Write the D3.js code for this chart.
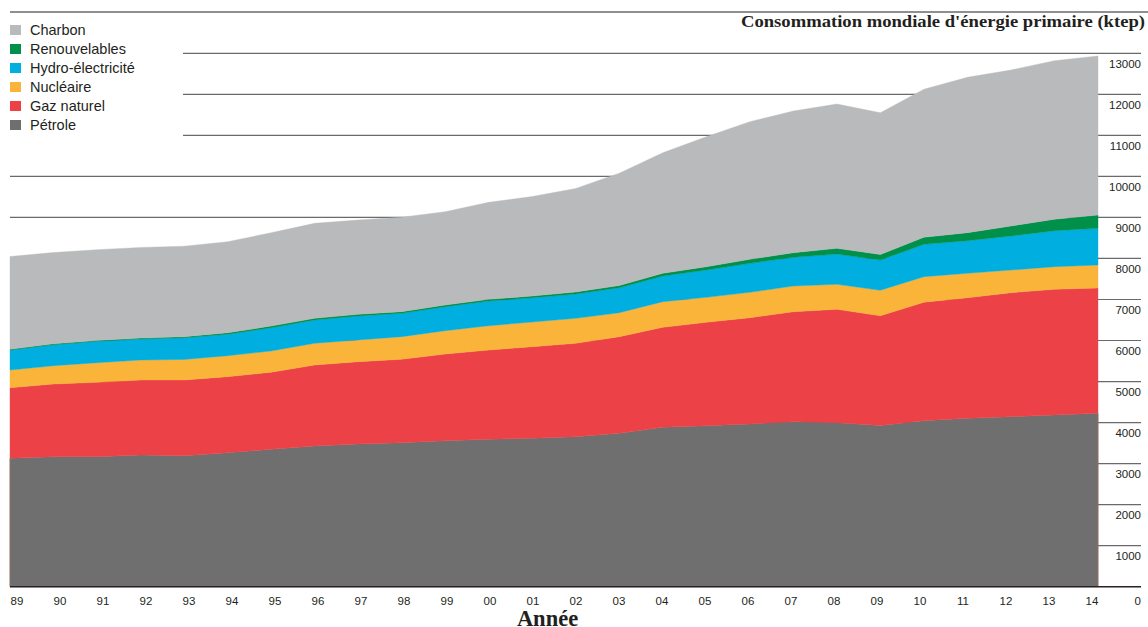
<!DOCTYPE html>
<html>
<head>
<meta charset="utf-8">
<script src="https://cdn.jsdelivr.net/npm/d3@7"></script>
<style>
  html, body { margin: 0; padding: 0; background: #fff; }
  svg { display: block; }
</style>
</head>
<body>
<svg id="chart" width="1148" height="627"></svg>
<script>
// ---- Data (ktep) ----
const years = [1989,1990,1991,1992,1993,1994,1995,1996,1997,1998,1999,2000,2001,2002,2003,2004,2005,2006,2007,2008,2009,2010,2011,2012,2013,2014];
const yearLabels = ["89","90","91","92","93","94","95","96","97","98","99","00","01","02","03","04","05","06","07","08","09","10","11","12","13","14"];
const petrole = [3129,3168,3168,3210,3193,3266,3349,3429,3478,3510,3558,3592,3617,3656,3739,3885,3924,3965,4021,3997,3929,4046,4104,4143,4185,4226];
const gazNaturel = [1721,1772,1813,1828,1845,1852,1877,1974,2006,2033,2113,2176,2233,2276,2354,2437,2520,2591,2681,2764,2674,2886,2939,3022,3064,3054];
const nucleaire = [431,446,478,487,500,512,519,529,529,551,568,592,602,609,585,624,609,619,626,609,621,624,595,553,551,561];
const hydro = [487,512,522,512,529,522,568,568,585,570,585,602,592,592,609,626,665,707,700,738,738,790,795,829,877,894];
const renouvelables = [22,22,22,22,27,36,40,41,41,40,41,41,40,52,52,66,80,97,112,139,134,171,195,244,278,324];
const charbon = [2257,2225,2211,2208,2206,2218,2274,2315,2298,2301,2274,2364,2425,2520,2739,2939,3168,3354,3454,3517,3456,3607,3787,3802,3866,3875];
const yTicks = [1000,2000,3000,4000,5000,6000,7000,8000,9000,10000,11000,12000,13000];

const seriesNames = ["Pétrole","Gaz naturel","Nucléaire","Hydro-électricité","Renouvelables","Charbon"];
const seriesColors = ["#6f6f6f","#ec4147","#fbb43a","#00aee0","#00904a","#b9babc"];
const legendOrder = ["Charbon","Renouvelables","Hydro-électricité","Nucléaire","Gaz naturel","Pétrole"];

const seriesValues = [petrole, gazNaturel, nucleaire, hydro, renouvelables, charbon];
const table = years.map((yr, i) => {
  const row = { year: yr };
  seriesNames.forEach((n, k) => row[n] = seriesValues[k][i]);
  return row;
});

// ---- Scales ----
const svg = d3.select("#chart");
const x = d3.scaleLinear().domain([1989, 2014]).range([10, 1098]);
const y = d3.scaleLinear().domain([0, 13000]).range([586.7, 53.3]);
const xLab = d3.scalePoint().domain(yearLabels).range([17, 1092]);
const color = d3.scaleOrdinal().domain(seriesNames).range(seriesColors);

// ---- Top rule & title ----
svg.append("line").attr("x1", 10).attr("x2", 1148).attr("y1", 12).attr("y2", 12)
  .attr("stroke", "#6a6a6a").attr("stroke-width", 1.3);

svg.append("text")
  .attr("x", 1145).attr("y", 27)
  .attr("text-anchor", "end")
  .attr("font-family", "'Liberation Serif', 'Times New Roman', serif")
  .attr("font-weight", "bold")
  .attr("font-size", 17.5)
  .attr("textLength", 404)
  .attr("lengthAdjust", "spacingAndGlyphs")
  .attr("fill", "#231f20")
  .text("Consommation mondiale d'énergie primaire (ktep)");

// ---- Gridlines ----
svg.append("g").selectAll("line").data(yTicks).join("line")
  .attr("x1", d => d >= 11000 ? 183 : 10)
  .attr("x2", 1141)
  .attr("y1", d => y(d)).attr("y2", d => y(d))
  .attr("stroke", "#6a6a6a").attr("stroke-width", 1.2);

// ---- Stacked areas ----
const stack = d3.stack().keys(seriesNames);
const layers = stack(table);
const area = d3.area()
  .x(d => x(d.data.year))
  .y0(d => y(d[0]))
  .y1(d => y(d[1]));

svg.append("g").selectAll("path").data(layers).join("path")
  .attr("d", area)
  .attr("fill", d => color(d.key))
  .attr("stroke", d => color(d.key))
  .attr("stroke-width", 0.4);

// thin edge lines on the oil layer
svg.append("line").attr("x1", x(2014)).attr("x2", x(2014))
  .attr("y1", y(0)).attr("y2", y(petrole[petrole.length - 1]))
  .attr("stroke", "#a0705e").attr("stroke-width", 0.8);
svg.append("line").attr("x1", x(1989)).attr("x2", x(1989))
  .attr("y1", y(0)).attr("y2", y(petrole[0]))
  .attr("stroke", "#a0705e").attr("stroke-width", 0.8);

// ---- Baseline ----
svg.append("line").attr("x1", 10).attr("x2", 1141).attr("y1", y(0)).attr("y2", y(0))
  .attr("stroke", "#2b2020").attr("stroke-width", 1.6);

// ---- Y tick labels ----
svg.append("g").selectAll("text").data(yTicks).join("text")
  .attr("x", 1141).attr("y", d => y(d) + 14.5)
  .attr("text-anchor", "end")
  .attr("font-family", "'Liberation Sans', Arial, sans-serif")
  .attr("font-size", 11.5)
  .attr("fill", "#231f20")
  .text(d => d);
svg.append("text")
  .attr("x", 1141).attr("y", 605)
  .attr("text-anchor", "end")
  .attr("font-family", "'Liberation Sans', Arial, sans-serif")
  .attr("font-size", 11.5)
  .attr("fill", "#231f20")
  .text("0");

// ---- X labels ----
svg.append("g").selectAll("text").data(yearLabels).join("text")
  .attr("x", d => xLab(d)).attr("y", 605)
  .attr("text-anchor", "middle")
  .attr("font-family", "'Liberation Sans', Arial, sans-serif")
  .attr("font-size", 11.5)
  .attr("fill", "#231f20")
  .text(d => d);

svg.append("text")
  .attr("x", 547.5).attr("y", 625.5)
  .attr("text-anchor", "middle")
  .attr("font-family", "'Liberation Serif', 'Times New Roman', serif")
  .attr("font-weight", "bold")
  .attr("font-size", 22.5)
  .attr("fill", "#231f20")
  .text("Année");

// ---- Legend ----
const leg = svg.append("g").selectAll("g").data(legendOrder).join("g")
  .attr("transform", (d, i) => `translate(10, ${30 + i * 19})`);
leg.append("rect").attr("x", 0).attr("y", -5).attr("width", 11).attr("height", 10)
  .attr("fill", d => color(d));
leg.append("text").attr("x", 20).attr("y", 5)
  .attr("font-family", "'Liberation Sans', Arial, sans-serif")
  .attr("font-size", 14.5)
  .attr("fill", "#231f20")
  .text(d => d);
</script>
</body>
</html>
